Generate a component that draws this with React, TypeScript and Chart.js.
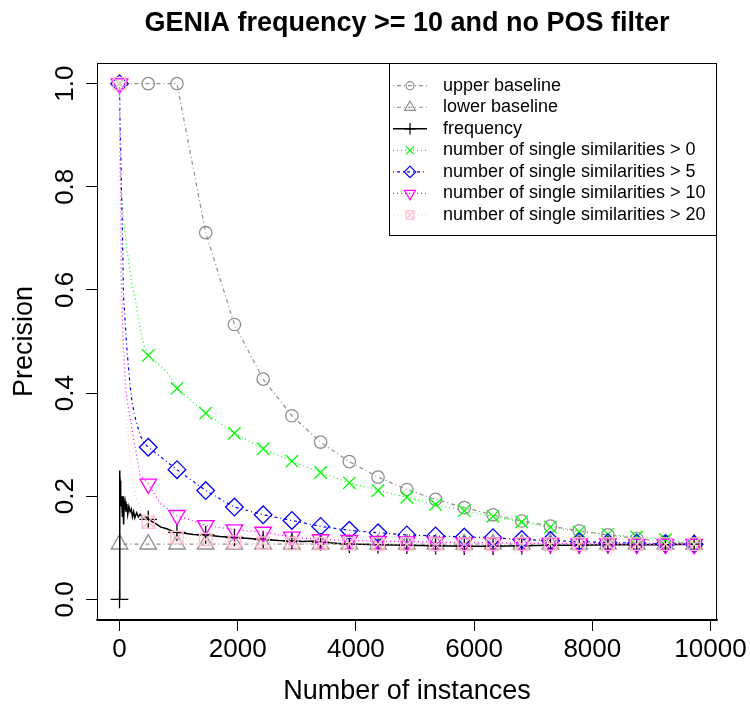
import React, { useEffect, useRef } from "react";
import { Chart, registerables } from "chart.js";
import { drawPoint } from "chart.js/helpers";

Chart.register(...registerables);

// ---------------- data ----------------
const chartTitle = "GENIA frequency >= 10 and no POS filter";
const xTitle = "Number of instances";
const yTitle = "Precision";
const xTicks = [0, 2000, 4000, 6000, 8000, 10000];
const yTicks = [0, 0.2, 0.4, 0.6, 0.8, 1.0];
const yTickLabels = ["0.0", "0.2", "0.4", "0.6", "0.8", "1.0"];
const seriesLabels = [
  "upper baseline",
  "lower baseline",
  "frequency",
  "number of single similarities > 0",
  "number of single similarities > 5",
  "number of single similarities > 10",
  "number of single similarities > 20",
];

// positions of the plotted symbols (every ~486 instances)
const markerX = [1, 487, 973, 1459, 1945, 2431, 2917, 3403, 3889, 4375, 4862, 5348, 5834, 6320, 6806, 7292, 7778, 8264, 8751, 9237, 9723];

const upperY = [1, 1, 1, 0.711, 0.533, 0.427, 0.356, 0.305, 0.267, 0.237, 0.213, 0.194, 0.178, 0.164, 0.152, 0.142, 0.133, 0.125, 0.118, 0.112, 0.107];
const lowerY = [0.107, 0.107, 0.107, 0.107, 0.107, 0.107, 0.107, 0.107, 0.107, 0.107, 0.107, 0.107, 0.107, 0.107, 0.107, 0.107, 0.107, 0.107, 0.107, 0.107, 0.107];
const freqY = [0, 0.155, 0.13, 0.125, 0.12, 0.116, 0.113, 0.111, 0.107, 0.106, 0.105, 0.104, 0.103, 0.103, 0.104, 0.105, 0.105, 0.106, 0.106, 0.106, 0.107];
const sim0Y = [1, 0.473, 0.409, 0.361, 0.322, 0.292, 0.268, 0.246, 0.226, 0.211, 0.198, 0.184, 0.172, 0.161, 0.15, 0.14, 0.131, 0.126, 0.121, 0.116, 0.107];
const sim5Y = [1, 0.295, 0.2515, 0.211, 0.179, 0.164, 0.153, 0.1415, 0.134, 0.129, 0.125, 0.123, 0.121, 0.1196, 0.116, 0.114, 0.112, 0.11, 0.109, 0.108, 0.107];
const sim10Y = [1, 0.224, 0.163, 0.1435, 0.135, 0.1305, 0.121, 0.116, 0.1145, 0.113, 0.112, 0.111, 0.11, 0.11, 0.109, 0.109, 0.108, 0.108, 0.107, 0.107, 0.107];
const sim20Y = [1, 0.15, 0.1196, 0.116, 0.111, 0.109, 0.108, 0.108, 0.108, 0.107, 0.107, 0.107, 0.107, 0.107, 0.107, 0.107, 0.107, 0.107, 0.107, 0.107, 0.107];

// dense parts of the curves (between the symbols)
const freqLineX = [1, 3, 4, 6, 8, 12, 16, 20, 25, 30, 40, 50, 60, 70, 80, 95, 110, 125, 140, 160, 180, 200, 220, 240, 260, 290, 320, 350, 400, 450, 600, 700, 800, 900, 1100, 1250, 1700, 2200, 2700, 3100, 3300, 3650, 4100];
const freqLineY = [0, 0, 0.25, 0.2, 0.24, 0.23, 0.19, 0.21, 0.18, 0.2, 0.19, 0.16, 0.2, 0.145, 0.18, 0.19, 0.17, 0.185, 0.165, 0.18, 0.17, 0.175, 0.16, 0.17, 0.158, 0.168, 0.16, 0.165, 0.158, 0.16, 0.148, 0.14, 0.137, 0.132, 0.128, 0.126, 0.122, 0.118, 0.114, 0.112, 0.113, 0.109, 0.107];
const sim0LineX = [1, 3, 6, 10, 20, 35, 50, 70, 90, 113, 150, 192, 230, 265, 300, 350, 405, 600, 700, 825];
const sim0LineY = [1, 0.9, 0.87, 0.84, 0.8, 0.78, 0.77, 0.74, 0.71, 0.69, 0.66, 0.625, 0.6, 0.585, 0.56, 0.525, 0.496, 0.462, 0.452, 0.438];
const sim5LineX = [1, 5, 10, 24, 35, 46, 58, 68, 100, 130, 152, 180, 209, 250, 294, 361, 420];
const sim5LineY = [1, 0.95, 0.92, 0.86, 0.78, 0.74, 0.66, 0.59, 0.53, 0.48, 0.45, 0.415, 0.386, 0.36, 0.34, 0.315, 0.303];
const sim10LineX = [1, 5, 10, 20, 29, 45, 70, 96, 125, 152, 200, 240, 282, 350, 420, 687];
const sim10LineY = [1, 0.93, 0.88, 0.78, 0.64, 0.56, 0.49, 0.43, 0.39, 0.37, 0.34, 0.31, 0.285, 0.24, 0.232, 0.186];
const sim20LineX = [1, 4, 8, 15, 25, 40, 68, 90, 113, 169, 236, 290, 338, 420, 700];
const sim20LineY = [1, 0.9, 0.8, 0.68, 0.6, 0.54, 0.45, 0.39, 0.35, 0.29, 0.222, 0.195, 0.18, 0.16, 0.13];

// ---------------- styles ----------------
const FONT = '"Liberation Sans", Arial, Helvetica, sans-serif';
const GRAY = "#8f8f8f";

type Mk = { style: string; radius: number; rotation?: number };
type Series = { color: string; dash: number[]; width: number; markers: Mk[] };

const styles: Series[] = [
  { color: GRAY, dash: [1, 3, 4, 3], width: 1.2, markers: [{ style: "circle", radius: 6.2 }] },
  { color: GRAY, dash: [1, 3, 4, 3], width: 1.2, markers: [{ style: "triangle", radius: 9.6 }] },
  { color: "#000000", dash: [], width: 1.5, markers: [{ style: "cross", radius: 8.8 }] },
  { color: "#00ff00", dash: [1, 3], width: 1.2, markers: [{ style: "crossRot", radius: 8.8 }] },
  { color: "#0000ff", dash: [1, 3, 3, 3], width: 1.2, markers: [{ style: "rectRot", radius: 8.8 }] },
  { color: "#ff00ff", dash: [1, 3], width: 1.2, markers: [{ style: "triangle", radius: 9.6, rotation: 180 }] },
  { color: "#ffc0cb", dash: [1, 3], width: 1.2, markers: [{ style: "rect", radius: 8.8 }, { style: "crossRot", radius: 8.8 }] },
];

function pts(xs: number[], ys: number[]) {
  return xs.map((x, i) => ({ x, y: ys[i] }));
}
function merged(lx: number[], ly: number[], my: number[]) {
  const a = pts(lx, ly);
  const seen = new Set(lx);
  pts(markerX, my).forEach((p) => {
    if (!seen.has(p.x)) a.push(p);
  });
  return a.sort((p, q) => p.x - q.x);
}

const lineData = [
  pts(markerX, upperY),
  pts(markerX, lowerY),
  merged(freqLineX, freqLineY, freqY),
  merged(sim0LineX, sim0LineY, sim0Y),
  merged(sim5LineX, sim5LineY, sim5Y),
  merged(sim10LineX, sim10LineY, sim10Y),
  merged(sim20LineX, sim20LineY, sim20Y),
];
const markData = [upperY, lowerY, freqY, sim0Y, sim5Y, sim10Y, sim20Y].map((ys) => pts(markerX, ys));

function buildDatasets() {
  const ds: any[] = [];
  styles.forEach((s, k) => {
    const order = 100 - k * 10;
    ds.push({
      label: seriesLabels[k],
      data: lineData[k],
      showLine: true,
      borderColor: s.color,
      borderWidth: s.width,
      borderDash: s.dash,
      pointRadius: 0,
      pointHoverRadius: 0,
      fill: false,
      order: order,
    });
    s.markers.forEach((m, j) => {
      ds.push({
        label: seriesLabels[k] + " symbols " + j,
        data: markData[k],
        showLine: false,
        pointStyle: m.style,
        pointRadius: m.radius,
        pointHoverRadius: m.radius,
        pointRotation: m.rotation || 0,
        pointBorderColor: s.color,
        pointBackgroundColor: "rgba(0,0,0,0)",
        pointBorderWidth: 1.3,
        order: order - 1 - j,
      });
    });
  });
  return ds;
}

const decorPlugin = {
  id: "rDecor",
  afterDraw(chart: any) {
    const { ctx, chartArea: a, scales } = chart;
    ctx.save();
    ctx.setLineDash([]);
    ctx.strokeStyle = "#000";
    ctx.lineWidth = 1;
    ctx.strokeRect(a.left + 0.5, a.top + 0.5, a.right - a.left - 1, a.bottom - a.top);

    ctx.fillStyle = "#000";
    // y tick labels (rotated, R style)
    ctx.font = `26px ${FONT}`;
    ctx.textAlign = "center";
    ctx.textBaseline = "alphabetic";
    yTicks.forEach((v, i) => {
      const py = scales.y.getPixelForValue(v);
      ctx.save();
      ctx.translate(72.5, py);
      ctx.rotate(-Math.PI / 2);
      ctx.fillText(yTickLabels[i], 0, 0);
      ctx.restore();
    });

    const cx = (a.left + a.right) / 2;
    const cy = (a.top + a.bottom) / 2;
    // main title
    ctx.font = `bold 27px ${FONT}`;
    ctx.fillText(chartTitle, cx, 31);
    // axis titles
    ctx.font = `27px ${FONT}`;
    ctx.fillText(xTitle, cx, 699);
    ctx.save();
    ctx.translate(32, cy);
    ctx.rotate(-Math.PI / 2);
    ctx.fillText(yTitle, 0, 0);
    ctx.restore();

    // legend
    const L = { left: 389, top: a.top, right: a.right, bottom: 235 };
    ctx.fillStyle = "#fff";
    ctx.fillRect(L.left, L.top, L.right - L.left, L.bottom - L.top);
    ctx.strokeStyle = "#000";
    ctx.strokeRect(L.left + 0.5, L.top + 0.5, L.right - L.left - 1, L.bottom - L.top);
    styles.forEach((s, k) => {
      const y = 85.7 + 21.55 * k;
      ctx.strokeStyle = s.color;
      ctx.lineWidth = s.width;
      ctx.setLineDash(s.dash);
      ctx.beginPath();
      ctx.moveTo(393, y);
      ctx.lineTo(427, y);
      ctx.stroke();
      ctx.setLineDash([]);
      ctx.lineWidth = 1.2;
      s.markers.forEach((m) => {
        ctx.fillStyle = "rgba(0,0,0,0)";
        ctx.strokeStyle = s.color;
        drawPoint(ctx, { pointStyle: m.style, radius: m.radius * 0.65, rotation: m.rotation || 0, borderWidth: 1 } as any, 410, y);
      });
      ctx.fillStyle = "#000";
      ctx.font = `18px ${FONT}`;
      ctx.textAlign = "left";
      ctx.textBaseline = "middle";
      ctx.fillText(seriesLabels[k], 443, y);
    });
    ctx.restore();
  },
};

export default function App() {
  const ref = useRef<HTMLCanvasElement | null>(null);
  useEffect(() => {
    document.body.style.margin = "0";
    const canvas = ref.current;
    if (!canvas) return;
    const chart = new Chart(canvas, {
      type: "scatter",
      data: { datasets: buildDatasets() },
      options: {
        responsive: false,
        animation: false,
        devicePixelRatio: 1,
        events: [],
        layout: { padding: { top: 63, right: 32, left: 0, bottom: 0 } },
        plugins: {
          legend: { display: false },
          tooltip: { enabled: false },
          title: { display: false },
        },
        scales: {
          x: {
            type: "linear",
            min: -380,
            max: 10110,
            afterBuildTicks: (s: any) => {
              s.ticks = xTicks.map((v) => ({ value: v }));
            },
            afterFit: (s: any) => {
              s.height = 87;
            },
            ticks: {
              autoSkip: false,
              maxRotation: 0,
              minRotation: 0,
              padding: 3,
              color: "#000",
              font: { family: FONT, size: 26 },
              callback: (v: any) => String(v),
            },
            grid: { display: true, drawOnChartArea: false, drawTicks: true, tickLength: 11, color: "#000", tickColor: "#000", lineWidth: 1 },
            border: { display: true, color: "#000", width: 1.5 },
          },
          y: {
            type: "linear",
            min: -0.04,
            max: 1.04,
            afterBuildTicks: (s: any) => {
              s.ticks = yTicks.map((v) => ({ value: v }));
            },
            afterFit: (s: any) => {
              s.width = 97;
            },
            ticks: { display: false },
            grid: { display: true, drawOnChartArea: false, drawTicks: true, tickLength: 11, color: "#000", tickColor: "#000", lineWidth: 1 },
            border: { display: true, color: "#000", width: 1 },
          },
        },
      },
      plugins: [decorPlugin],
    } as any);
    return () => chart.destroy();
  }, []);
  return (
    <div style={{ width: 750, height: 707, background: "#fff" }}>
      <canvas ref={ref} width={750} height={707} style={{ display: "block" }} />
    </div>
  );
}
